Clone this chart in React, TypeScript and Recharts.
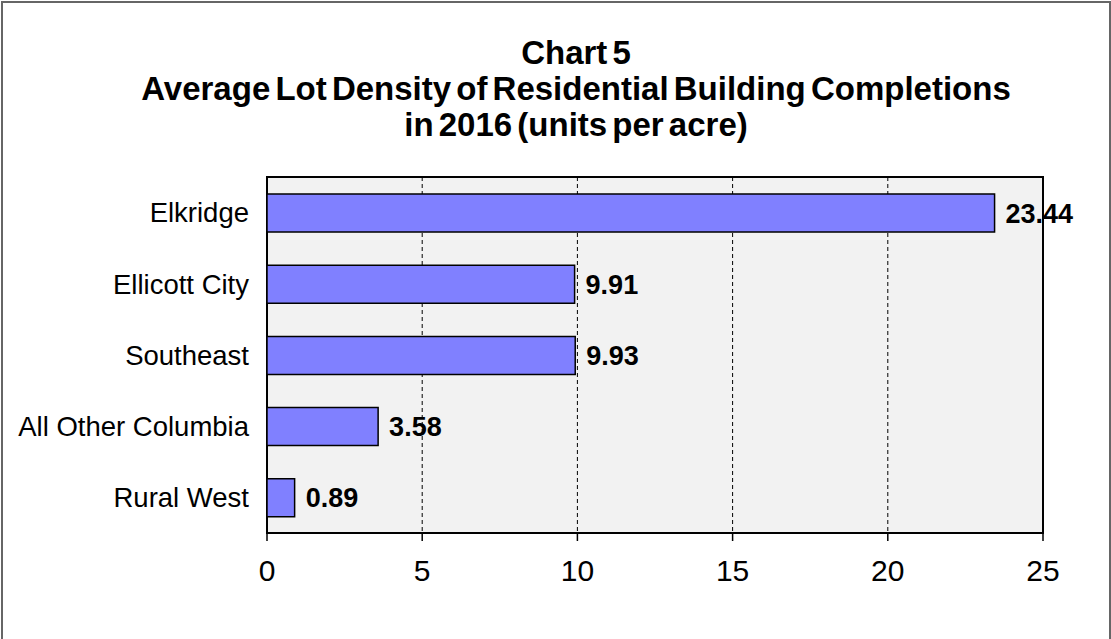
import { BarChart, Bar, XAxis, YAxis, CartesianGrid, LabelList, ReferenceArea } from 'recharts';

const regions = ['Elkridge', 'Ellicott City', 'Southeast', 'All Other Columbia', 'Rural West'];
const density = [23.44, 9.91, 9.93, 3.58, 0.89];
const xTicks = [0, 5, 10, 15, 20, 25];
const frameTicks = [0, 1, 2, 3, 4, 5];
const titleLines = ['Chart 5', 'Average Lot Density of Residential Building Completions', 'in 2016 (units per acre)'];

const data = regions.map((name, i) => ({ name, value: density[i] }));

const FONT = '"Liberation Sans", Arial, sans-serif';

export default function App() {
  return (
    <div
      style={{
        position: 'absolute',
        left: 0,
        top: 0,
        width: 1111,
        height: 639,
        background: '#fff',
        fontFamily: FONT,
        overflow: 'hidden',
      }}
    >
      <div
        style={{
          position: 'absolute',
          left: 1,
          top: 1,
          width: 1110,
          height: 640,
          borderLeft: '2px solid #666',
          borderTop: '2px solid #666',
          borderRight: '2px solid #666',
          boxSizing: 'border-box',
        }}
      />
      <div
        style={{
          position: 'absolute',
          left: 0,
          top: 35,
          width: 1152,
          textAlign: 'center',
          fontWeight: 'bold',
          fontSize: 33,
          lineHeight: '36px',
          wordSpacing: -4,
          color: '#000',
        }}
      >
        {titleLines.map((t) => (
          <div key={t}>{t}</div>
        ))}
      </div>
      <div style={{ position: 'absolute', left: 0, top: 0 }}>
        <BarChart
          width={1111}
          height={639}
          data={data}
          layout="vertical"
          margin={{ top: 177, right: 68, bottom: 0, left: 0 }}
        >
          <CartesianGrid
            horizontal={false}
            stroke="#000"
            strokeDasharray="4 3"
            fill="#F2F2F2"
            fillOpacity={1}
          />
          <XAxis
            type="number"
            domain={[0, 25]}
            ticks={xTicks}
            interval={0}
            height={106}
            axisLine={{ stroke: '#000', strokeWidth: 2 }}
            tickLine={{ stroke: '#000', strokeWidth: 1.5 }}
            tickSize={8}
            tickMargin={19}
            tick={{ fill: '#000', fontSize: 30, fontFamily: FONT }}
          />
          <YAxis
            type="category"
            dataKey="name"
            width={267}
            axisLine={false}
            tickLine={false}
            tickSize={8}
            tickMargin={10}
            interval={0}
            tick={{ fill: '#000', fontSize: 27.5, fontFamily: FONT }}
          />
          <YAxis
            yAxisId="frame"
            type="number"
            domain={[0, 5]}
            ticks={frameTicks}
            interval={0}
            allowDataOverflow
            width={0}
            tick={false}
            tickSize={8}
            axisLine={{ stroke: '#000', strokeWidth: 2 }}
            tickLine={{ stroke: '#000', strokeWidth: 1.5 }}
          />
          <ReferenceArea
            x1={0}
            x2={25}
            fill="none"
            stroke="#000"
            strokeWidth={2}
            ifOverflow="visible"
          />
          <Bar
            dataKey="value"
            fill="#8080FF"
            stroke="#000"
            strokeWidth={1.5}
            barSize={38}
            isAnimationActive={false}
          >
            <LabelList
              dataKey="value"
              position="right"
              offset={11}
              formatter={(v: any) => Number(v).toFixed(2)}
              style={{ fill: '#000', fontSize: 27, fontWeight: 'bold', fontFamily: FONT }}
            />
          </Bar>
        </BarChart>
      </div>
    </div>
  );
}
